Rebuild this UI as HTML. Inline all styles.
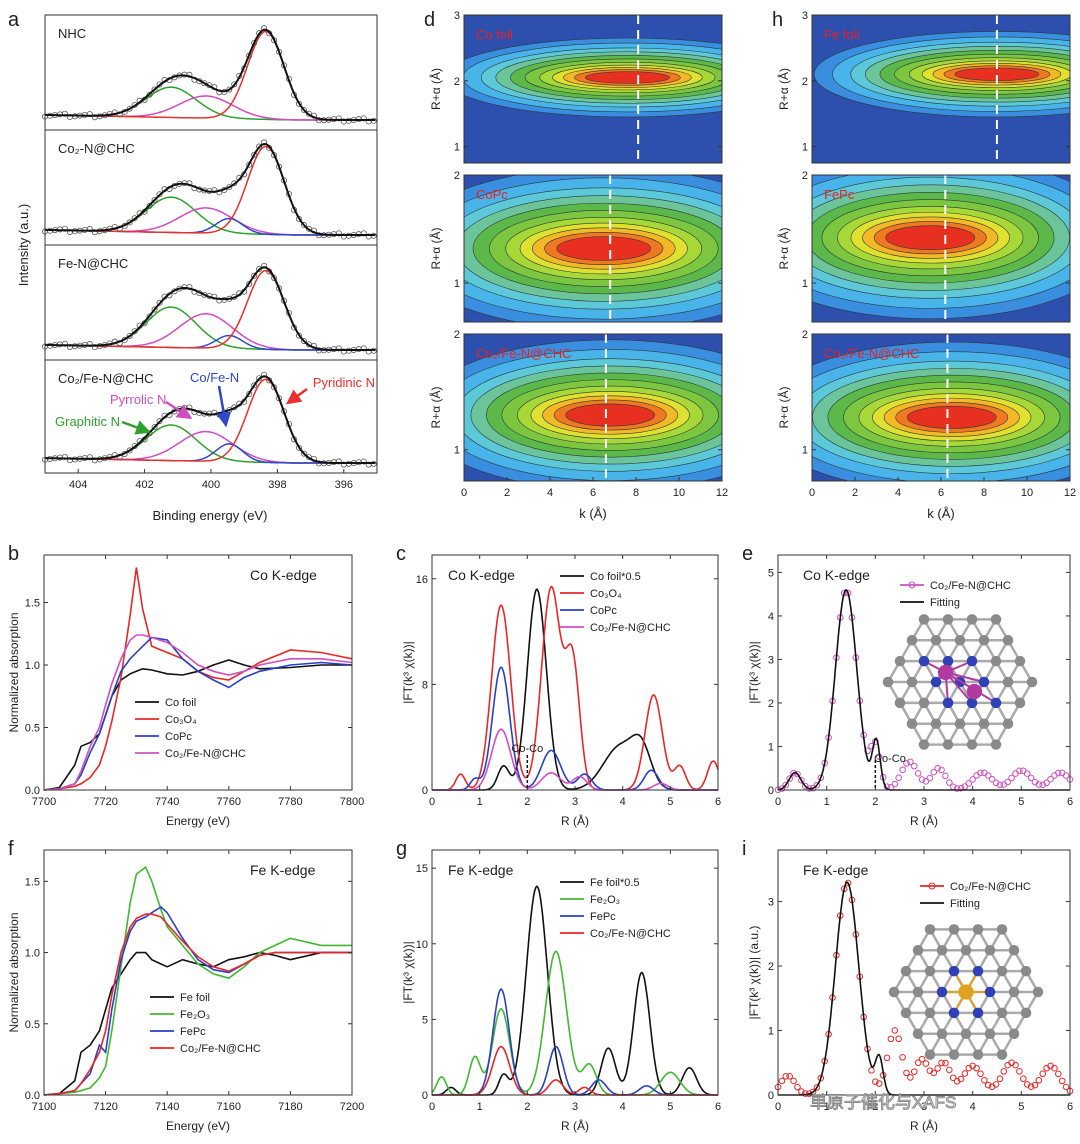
<!DOCTYPE html>
<html><head><meta charset="utf-8"><style>
body{margin:0;background:#fff;}
svg{display:block;font-family:"Liberation Sans","Noto Sans CJK SC",sans-serif;}
</style></head><body>
<svg id="s" width="1080" height="1144" viewBox="0 0 1080 1144">
<defs>
<marker id="arR" markerWidth="6" markerHeight="6" refX="3" refY="3" orient="auto"><path d="M0,0L6,3L0,6z" fill="#e8302c"/></marker>
<marker id="arB" markerWidth="6" markerHeight="6" refX="3" refY="3" orient="auto"><path d="M0,0L6,3L0,6z" fill="#3048c8"/></marker>
<marker id="arM" markerWidth="6" markerHeight="6" refX="3" refY="3" orient="auto"><path d="M0,0L6,3L0,6z" fill="#d04bc0"/></marker>
<marker id="arG" markerWidth="6" markerHeight="6" refX="3" refY="3" orient="auto"><path d="M0,0L6,3L0,6z" fill="#2ea02e"/></marker>
</defs>
</svg>
<script>
// ---------- data ----------
const xpsSamples=["NHC","Co₂-N@CHC","Fe-N@CHC","Co₂/Fe-N@CHC"];
const xpsCenters=[401.2,400.15,399.45,398.35];
const xpsWidths=[0.75,0.8,0.4,0.55];
const xpsAmps=[[0.3,0.22,0,0.87],[0.35,0.25,0.15,0.87],[0.4,0.34,0.13,0.78],[0.36,0.3,0.18,0.84]];
const xpsColors=["#2ea02e","#d04bc0","#3048c8","#e8302c"];
const xanesCoE=[7700,7705,7710,7712,7715,7718,7720,7722,7725,7728,7730,7732,7735,7740,7745,7750,7755,7760,7765,7770,7780,7790,7800];
const coFoil=[0,0.02,0.2,0.35,0.38,0.45,0.6,0.75,0.88,0.93,0.95,0.97,0.96,0.93,0.92,0.95,1.0,1.04,1.0,0.97,0.98,1.0,1.0];
const co3o4=[0,0.01,0.03,0.05,0.1,0.2,0.35,0.55,0.9,1.4,1.78,1.45,1.15,1.1,1.05,0.95,0.9,0.88,0.95,1.02,1.12,1.1,1.05];
const coPc=[0,0.01,0.05,0.12,0.3,0.45,0.6,0.75,0.95,1.05,1.1,1.15,1.22,1.2,1.05,0.95,0.88,0.82,0.9,0.95,1.0,1.02,1.0];
const coSampleB=[0,0.01,0.05,0.15,0.35,0.5,0.68,0.85,1.05,1.2,1.24,1.24,1.22,1.18,1.1,1.0,0.95,0.92,0.95,1.0,1.05,1.05,1.02];
const xanesFeE=[7100,7105,7110,7112,7115,7118,7120,7122,7125,7128,7130,7133,7135,7138,7140,7145,7150,7155,7160,7165,7170,7175,7180,7190,7200];
const feFoil=[0,0.01,0.1,0.3,0.35,0.45,0.6,0.75,0.85,0.95,1.0,1.0,0.95,0.92,0.9,0.95,0.92,0.9,0.95,0.97,1.0,0.98,0.95,1.0,1.0];
const fe2o3=[0,0.01,0.02,0.03,0.05,0.12,0.2,0.45,0.9,1.35,1.55,1.6,1.5,1.3,1.18,1.05,0.92,0.85,0.82,0.9,1.0,1.05,1.1,1.05,1.05];
const fePc=[0,0.01,0.03,0.08,0.15,0.35,0.3,0.6,0.95,1.15,1.22,1.25,1.28,1.32,1.28,1.1,0.95,0.88,0.86,0.92,0.98,1.0,1.0,1.0,1.0];
const feSampleF=[0,0.01,0.03,0.08,0.18,0.3,0.45,0.7,1.0,1.18,1.24,1.27,1.27,1.25,1.2,1.08,0.97,0.9,0.87,0.92,0.98,1.0,1.0,1.0,1.0];
// FT peaks: [center,height,width]
const cFoil=[[2.2,15.2,0.2],[1.5,1.8,0.12],[3.95,3.3,0.35],[4.4,2.5,0.2]];
const cCo3o4=[[1.45,14,0.2],[2.5,15.3,0.2],[2.95,9.5,0.15],[4.65,7.2,0.18],[5.2,1.8,0.12],[5.9,2.2,0.12],[0.6,1.2,0.1]];
const cCoPc=[[1.45,9.3,0.18],[2.5,3,0.2],[3.2,1.2,0.15],[4.6,1.5,0.15],[0.9,0.8,0.1]];
const cSample=[[1.45,4.6,0.2],[2.5,1.3,0.2],[3.1,1,0.15],[4.8,0.5,0.15]];
const gFoil=[[2.2,13.8,0.22],[1.5,1.3,0.1],[3.7,3.1,0.15],[4.4,8.1,0.17],[5.4,1.8,0.15],[0.4,0.5,0.1]];
const gFe2o3=[[1.45,5.7,0.18],[0.9,2.5,0.12],[2.6,9.5,0.22],[3.3,2,0.15],[5,1.5,0.2],[0.2,1.2,0.1]];
const gFePc=[[1.45,7,0.17],[2.6,3.2,0.15],[3.5,1,0.15],[4.5,0.6,0.15]];
const gSample=[[1.45,3.2,0.18],[2.6,1,0.15],[3.2,0.5,0.12]];
const eExp=[[1.4,4.6,0.22],[2.0,1.0,0.1],[2.7,0.65,0.17],[3.3,0.5,0.15],[4.2,0.4,0.2],[5.0,0.45,0.2],[5.8,0.4,0.2],[0.35,0.4,0.12]];
const eFit=[[1.4,4.6,0.22],[2.02,1.1,0.08],[0.35,0.4,0.12]];
const iExp=[[1.42,3.3,0.24],[2.4,1.0,0.15],[2.95,0.55,0.15],[3.4,0.5,0.15],[4.0,0.45,0.2],[4.8,0.5,0.2],[5.6,0.45,0.2],[0.2,0.3,0.15]];
const iFit=[[1.42,3.3,0.24],[2.08,0.55,0.08]];
// wavelet centres [k, R, rx, ry]
const wtD=[[7.6,2.05,8.5,0.6],[6.5,1.32,9.5,0.75],[6.8,1.3,9,0.65]];
const wtH=[[8.6,2.1,8.5,0.65],[5.5,1.42,9,0.75],[6.5,1.28,9,0.65]];
const wtDash=[[8.1,6.8,6.6],[8.6,6.2,6.3]];
const wtNames=[["Co foil","CoPc","Co₂/Fe-N@CHC"],["Fe foil","FePc","Co₂/Fe-N@CHC"]];
// ---------- helpers ----------
const S=document.getElementById('s'),NS='http://www.w3.org/2000/svg';
function el(t,a,p){const e=document.createElementNS(NS,t);for(const k in a)e.setAttribute(k,a[k]);(p||S).appendChild(e);return e;}
function txt(x,y,s,o){o=o||{};const e=el('text',{x:x,y:y,'font-size':o.fs||12,fill:o.fill||'#222','text-anchor':o.a||'start','font-weight':o.fw||'normal'});if(o.rot)e.setAttribute('transform',`rotate(-90 ${x} ${y})`);e.textContent=s;return e;}
function ax(x0,y0,x1,y1,xmin,xmax,ymin,ymax){return{sx:v=>x0+(v-xmin)/(xmax-xmin)*(x1-x0),sy:v=>y1-(v-ymin)/(ymax-ymin)*(y1-y0)};}
function pathOf(xs,ys,A){return xs.map((x,i)=>(i?'L':'M')+A.sx(x).toFixed(1)+','+A.sy(ys[i]).toFixed(1)).join('');}
function gsum(p,x){let s=0;for(const q of p)s+=q[1]*Math.exp(-((x-q[0])**2)/(2*q[2]*q[2]));return s;}
function frame(x0,y0,x1,y1,name){const r=el('rect',{x:x0,y:y0,width:x1-x0,height:y1-y0,fill:'none',stroke:'#333','stroke-width':1});}
function xticks(A,vals,y1,y0,lab){vals.forEach(v=>{const x=A.sx(v);el('line',{x1:x,x2:x,y1:y1,y2:y1-4,stroke:'#333'});if(y0!=null)el('line',{x1:x,x2:x,y1:y0,y2:y0+4,stroke:'#333'});const t=txt(x,y1+15,lab?lab(v):v,{a:'middle',fs:11});});}
function yticks(A,vals,x0,x1){vals.forEach(v=>{const y=A.sy(v);el('line',{x1:x0,x2:x0+4,y1:y,y2:y,stroke:'#333'});if(x1!=null)el('line',{x1:x1,x2:x1-4,y1:y,y2:y,stroke:'#333'});const t=txt(x0-4,y+4,v,{a:'end',fs:11});});}
function plabel(x,y,s){const t=txt(x,y,s,{fs:20});}
// ---------- panel a ----------
plabel(8,26,'a');
const aTops=[15,130,245,360],aBot=473;
xpsSamples.forEach((nm,i)=>{
  const y0=aTops[i],y1=i<3?aTops[i+1]:aBot;
  const A=ax(45,y0+8,377,y1-6,405,395,0,1);
  const xs=[];for(let x=405;x>=395;x-=0.05)xs.push(+x.toFixed(2));
  const base=x=>0.04+0.05*Math.max(0,(x-397.5)/7.5);
  xpsCenters.forEach((c,j)=>{const a=xpsAmps[i][j];if(!a)return;
    const ys=xs.map(x=>base(x)+a*Math.exp(-((x-c)**2)/(2*xpsWidths[j]**2)));
    const p=el('path',{d:pathOf(xs,ys,A),fill:'none',stroke:xpsColors[j],'stroke-width':1.5});
    });
  const tot=xs.map(x=>base(x)+xpsCenters.reduce((s,c,j)=>s+xpsAmps[i][j]*Math.exp(-((x-c)**2)/(2*xpsWidths[j]**2)),0));
  for(let k=0;k<xs.length;k+=3){const c=el('circle',{cx:A.sx(xs[k]),cy:A.sy(tot[k])-((k*7)%5-2)*0.8,r:2.6,fill:'none',stroke:'#555','stroke-width':0.8});}
  const p=el('path',{d:pathOf(xs,tot,A),fill:'none',stroke:'#111','stroke-width':2});
  
  const t=txt(58,y0+23,nm,{fs:13});
  if(i<3)el('line',{x1:45,x2:377,y1:y1,y2:y1,stroke:'#333'});
});
frame(45,15,377,473,'panel-a-frame');
const Aa=ax(45,15,377,473,405,395,0,1);
xticks(Aa,[404,402,400,398,396],473,null);
txt(210,520,'Binding energy (eV)',{a:'middle',fs:13});
txt(28,245,'Intensity (a.u.)',{a:'middle',fs:13,rot:1});
txt(375,387,'Pyridinic N',{a:'end',fs:13,fill:'#e8302c'});
el('line',{x1:307,y1:389,x2:292,y2:400,stroke:'#e8302c','stroke-width':2.5,'marker-end':'url(#arR)'});
txt(190,382,'Co/Fe-N',{fs:13,fill:'#3048c8'});
el('line',{x1:219,y1:386,x2:225,y2:420,stroke:'#3048c8','stroke-width':2.5,'marker-end':'url(#arB)'});
txt(110,404,'Pyrrolic N',{fs:13,fill:'#d04bc0'});
el('line',{x1:166,y1:402,x2:186,y2:415,stroke:'#d04bc0','stroke-width':2.5,'marker-end':'url(#arM)'});
txt(55,426,'Graphitic N',{fs:13,fill:'#2ea02e'});
el('line',{x1:122,y1:422,x2:144,y2:430,stroke:'#2ea02e','stroke-width':2.5,'marker-end':'url(#arG)'});
// ---------- wavelet panels ----------
const wRings=[[1.0,'#3a8ee0'],[0.9,'#48b4ea'],[0.8,'#5cc8d8'],[0.72,'#6cc49a'],[0.64,'#5cb848'],[0.56,'#7cc640'],[0.48,'#a8d838'],[0.41,'#e0e030'],[0.35,'#f3b825'],[0.29,'#f07820'],[0.23,'#e83020']];
function wavelet(x0,col,label){
  plabel(x0-40,26,label);
  const subs=[[15,163,0.75,3.0,[1,2,3]],[175,322,0.64,2.0,[1,2]],[334,481,0.73,2.0,[1,2]]];
  const set=col===0?wtD:wtH;
  subs.forEach((s,i)=>{
    const A=ax(x0,s[0],x0+258,s[1],0,12,s[2],s[3]);
    const id='cl'+col+i;
    const cp=el('clipPath',{id:id});el('rect',{x:x0,y:s[0],width:258,height:s[1]-s[0]},cp);
    const g=el('g',{'clip-path':`url(#${id})`});
    el('rect',{x:x0,y:s[0],width:258,height:s[1]-s[0],fill:'#2d4fae'},g);
    const w=set[i];
    wRings.forEach(rc=>{const f=rc[0];
      const e=el('ellipse',{cx:A.sx(w[0]),cy:A.sy(w[1]),rx:Math.abs(A.sx(w[2]*f)-A.sx(0)),ry:Math.abs(A.sy(0)-A.sy(w[3]*Math.pow(f,1.3))),fill:rc[1],stroke:'#2a3a3a','stroke-width':0.6},g);
      });
    const dx=A.sx(wtDash[col][i]);
    el('line',{x1:dx,x2:dx,y1:s[0],y2:s[1],stroke:'#fff','stroke-width':2,'stroke-dasharray':'9,6'},g);
    frame(x0,s[0],x0+258,s[1],'wavelet-frame');
    yticks(A,s[4],x0,x0+258);
    txt(x0+12,s[0]+24,wtNames[col][i],{fs:13,fill:'#e82020'});
    txt(x0-24,(s[0]+s[1])/2,'R+α (Å)',{a:'middle',fs:12,rot:1});
    if(i===2)xticks(A,[0,2,4,6,8,10,12],s[1],null);
  });
  txt(x0+129,518,'k (Å)',{a:'middle',fs:13});
}
wavelet(464,0,'d');wavelet(812,1,'h');
// ---------- line panels ----------
function linePanel(o){
  plabel(o.x0-36,o.y0+5,o.lab);
  const A=ax(o.x0,o.y0,o.x1,o.y1,o.xmin,o.xmax,o.ymin,o.ymax);
  o.series.forEach(s=>{let xs,ys;
    if(s.peaks){xs=[];ys=[];for(let x=o.xmin;x<=o.xmax+1e-9;x+=0.02){xs.push(x);ys.push(Math.min(gsum(s.peaks,x),o.ymax*1.02));}}
    else{xs=s.x;ys=s.y;}
    if(s.circles){for(let k=0;k<xs.length;k+=4){const c=el('circle',{cx:A.sx(xs[k]),cy:A.sy(ys[k]),r:2.8,fill:'none',stroke:s.c,'stroke-width':1});}}
    else{const p=el('path',{d:pathOf(xs,ys,A),fill:'none',stroke:s.c,'stroke-width':1.6});}
  });
  frame(o.x0,o.y0,o.x1,o.y1,'panel-'+o.lab+'-frame');
  xticks(A,o.xt,o.y1,o.y0);yticks(A,o.yt,o.x0,o.x1);
  txt((o.x0+o.x1)/2,o.y1+35,o.xl,{a:'middle',fs:12});
  txt(o.x0-o.yoff,(o.y0+o.y1)/2,o.yl,{a:'middle',fs:12,rot:1});
  txt(o.tx,o.y0+25,o.title,{fs:14});
  o.series.forEach((s,i)=>{const ly=o.ly+i*17;
    if(s.circles)el('circle',{cx:o.lx+12,cy:ly,r:3,fill:'none',stroke:s.c});
    el('line',{x1:o.lx,x2:o.lx+24,y1:ly,y2:ly,stroke:s.c,'stroke-width':1.8});
    const t=txt(o.lx+30,ly+4,s.n,{fs:11});});
  return A;
}
const K='#111',R='#e82828',B='#2840c8',M='#d050c0',G='#40b830';
linePanel({lab:'b',x0:44,y0:555,x1:352,y1:790,xmin:7700,xmax:7800,ymin:0,ymax:1.88,xt:[7700,7720,7740,7760,7780,7800],yt:[0.0,0.5,1.0,1.5].map(v=>v.toFixed(1)),xl:'Energy (eV)',yl:'Normalized absorption',yoff:26,tx:250,title:'Co K-edge',lx:135,ly:702,
 series:[{n:'Co foil',c:K,x:xanesCoE,y:coFoil},{n:'Co₃O₄',c:R,x:xanesCoE,y:co3o4},{n:'CoPc',c:B,x:xanesCoE,y:coPc},{n:'Co₂/Fe-N@CHC',c:M,x:xanesCoE,y:coSampleB}]});
const Ac=linePanel({lab:'c',x0:432,y0:555,x1:718,y1:790,xmin:0,xmax:6,ymin:0,ymax:17.8,xt:[0,1,2,3,4,5,6],yt:[0,8,16],xl:'R (Å)',yl:'|FT(k³ χ(k))|',yoff:20,tx:448,title:'Co K-edge',lx:560,ly:576,
 series:[{n:'Co foil*0.5',c:K,peaks:cFoil},{n:'Co₃O₄',c:R,peaks:cCo3o4},{n:'CoPc',c:B,peaks:cCoPc},{n:'Co₂/Fe-N@CHC',c:M,peaks:cSample}]});
el('line',{x1:Ac.sx(2),x2:Ac.sx(2),y1:755,y2:790,stroke:'#111','stroke-dasharray':'3,2','stroke-width':1.5});
txt(Ac.sx(2),752,'Co-Co',{a:'middle',fs:11});
const Ae=linePanel({lab:'e',x0:778,y0:555,x1:1070,y1:790,xmin:0,xmax:6,ymin:0,ymax:5.4,xt:[0,1,2,3,4,5,6],yt:[0,1,2,3,4,5],xl:'R (Å)',yl:'|FT(k³ χ(k))|',yoff:20,tx:803,title:'Co K-edge',lx:900,ly:585,
 series:[{n:'Co₂/Fe-N@CHC',c:M,peaks:eExp,circles:true},{n:'Fitting',c:K,peaks:eFit}]});
el('line',{x1:Ae.sx(2),x2:Ae.sx(2),y1:760,y2:790,stroke:'#111','stroke-dasharray':'3,2','stroke-width':1.5});
txt(Ae.sx(2.3),762,'Co-Co',{a:'middle',fs:11});
linePanel({lab:'f',x0:44,y0:850,x1:352,y1:1095,xmin:7100,xmax:7200,ymin:0,ymax:1.72,xt:[7100,7120,7140,7160,7180,7200],yt:[0.0,0.5,1.0,1.5].map(v=>v.toFixed(1)),xl:'Energy (eV)',yl:'Normalized absorption',yoff:26,tx:250,title:'Fe K-edge',lx:150,ly:997,
 series:[{n:'Fe foil',c:K,x:xanesFeE,y:feFoil},{n:'Fe₂O₃',c:G,x:xanesFeE,y:fe2o3},{n:'FePc',c:B,x:xanesFeE,y:fePc},{n:'Co₂/Fe-N@CHC',c:R,x:xanesFeE,y:feSampleF}]});
linePanel({lab:'g',x0:432,y0:850,x1:718,y1:1095,xmin:0,xmax:6,ymin:0,ymax:16.2,xt:[0,1,2,3,4,5,6],yt:[0,5,10,15],xl:'R (Å)',yl:'|FT(k³ χ(k))|',yoff:20,tx:448,title:'Fe K-edge',lx:560,ly:882,
 series:[{n:'Fe foil*0.5',c:K,peaks:gFoil},{n:'Fe₂O₃',c:G,peaks:gFe2o3},{n:'FePc',c:B,peaks:gFePc},{n:'Co₂/Fe-N@CHC',c:R,peaks:gSample}]});
linePanel({lab:'i',x0:778,y0:850,x1:1070,y1:1095,xmin:0,xmax:6,ymin:0,ymax:3.8,xt:[0,1,2,3,4,5,6],yt:[0,1,2,3],xl:'R (Å)',yl:'|FT(k³ χ(k))| (a.u.)',yoff:20,tx:803,title:'Fe K-edge',lx:920,ly:886,
 series:[{n:'Co₂/Fe-N@CHC',c:R,peaks:iExp,circles:true},{n:'Fitting',c:K,peaks:iFit}]});
// ---------- molecule insets ----------
function molecule(cx,cy,sc,metal,two){
  const g=el('g',{});
  const pts=[];for(let r=-3;r<=3;r++)for(let c=-3;c<=3;c++){const x=cx+(c+(r%2?0.5:0))*sc,y=cy+r*sc*0.87;if(Math.hypot(x-cx,y-cy)<sc*3.2)pts.push([x,y]);}
  pts.forEach((a,i)=>pts.forEach((b,j)=>{if(j>i&&Math.hypot(a[0]-b[0],a[1]-b[1])<sc*1.05)el('line',{x1:a[0],y1:a[1],x2:b[0],y2:b[1],stroke:'#aaa','stroke-width':2.5},g);}));
  const ms=two?[[cx-sc*0.6,cy-sc*0.4],[cx+sc*0.6,cy+sc*0.4]]:[[cx,cy]];
  pts.forEach(p=>{const d=Math.min(...ms.map(m=>Math.hypot(p[0]-m[0],p[1]-m[1])));
    if(d<sc*1.3)el('line',{x1:p[0],y1:p[1],x2:ms[0][0],y2:ms[0][1],stroke:metal,'stroke-width':2},g);
    el('circle',{cx:p[0],cy:p[1],r:sc*0.22,fill:d<sc*1.3?'#3040b8':'#8a8a8a'},g);});
  ms.forEach(m=>el('circle',{cx:m[0],cy:m[1],r:sc*0.32,fill:metal},g));
}
molecule(960,682,24,'#b03aa0',true);
molecule(966,992,24,'#e0a020',false);
txt(810,1108,'单原子催化与XAFS',{fs:17,fill:'#fff'}).setAttribute('stroke','#888');
</script>
</body></html>
